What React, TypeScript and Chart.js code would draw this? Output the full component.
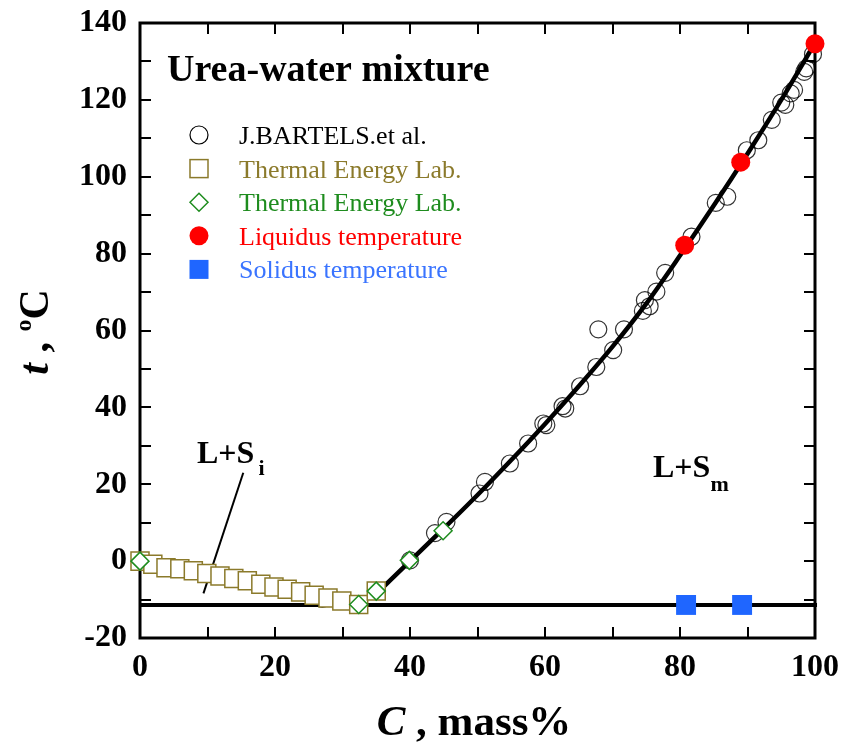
import React, { useEffect, useRef } from "react";
import { Chart, registerables } from "chart.js";

Chart.register(...registerables);

// ---- data ----
const bartelsC = [27, 40, 43.7, 45.4, 50.3, 51.1, 54.8, 57.5, 59.75, 60.2, 62.6, 63.0, 65.2, 67.6, 67.9, 70.1, 71.7, 74.5, 74.8, 75.5, 76.5, 77.8, 81.7, 85.3, 87.0, 89.9, 91.6, 93.6, 95.0, 95.6, 96.4, 96.9, 98.4, 98.7, 99.7];
const bartelsT = [-9.8, 0.2, 7.3, 10.2, 17.6, 20.6, 25.4, 30.6, 35.8, 35.4, 40.3, 39.7, 45.5, 50.5, 60.3, 54.9, 60.3, 65.1, 67.9, 66.3, 70.1, 75.0, 84.4, 93.2, 94.8, 106.9, 109.5, 114.8, 119.3, 118.7, 121.7, 122.6, 127.3, 128.2, 131.9];

const labSqC = [0, 1.9, 3.85, 5.9, 7.9, 9.9, 11.85, 13.9, 15.9, 17.9, 19.85, 21.8, 23.8, 25.8, 27.85, 29.9, 32.4, 35.0];
const labSqT = [0, -0.8, -1.7, -2.0, -2.5, -3.2, -3.9, -4.5, -5.1, -6.0, -6.7, -7.3, -8.0, -8.9, -9.6, -10.4, -11.3, -7.8];

const labDiC = [0, 32.4, 35.0, 39.9, 44.9];
const labDiT = [0, -11.3, -7.8, 0.2, 7.9];

const liqC = [80.7, 89.0, 100];
const liqT = [82.2, 103.8, 134.6];

const solC = [80.9, 89.2];
const solT = [-11.4, -11.4];

const curveC = [35.3, 40, 45, 50, 55, 60, 65, 70, 75, 80, 85, 90, 95, 100];
const curveT = [-8, 0, 8.5, 17.2, 26.3, 35.7, 45.5, 55.8, 67, 79.5, 92.5, 106, 120, 134.8];

const solidusLineC = [0, 100.3];
const solidusLineT = [-11.4, -11.4];

const pointerC = [9.4, 15.3];
const pointerT = [-8.4, 23];

const X_MIN = 0, X_MAX = 100, X_STEP = 20, X_MINOR = 10;
const Y_MIN = -20, Y_MAX = 140, Y_STEP = 20, Y_MINOR = 10;

const legendLabels = [
  "J.BARTELS.et al.",
  "Thermal Energy Lab.",
  "Thermal Energy Lab.",
  "Liquidus temperature",
  "Solidus temperature",
];
const titleText = "Urea-water mixture";

// ---- styles ----
const SERIF = '"Liberation Serif", "Times New Roman", serif';
const OLIVE = "#8B7A2B";
const GREEN = "#1E8C1E";
const RED = "#ff0000";
const BLUE = "#1f66ff";
const legendColors = ["#000000", OLIVE, GREEN, RED, "#3a74ff"];

const pts = (xs: number[], ys: number[]) => xs.map((x, i) => ({ x, y: ys[i] }));

type Run = { text: string; font: string; dy?: number; dx?: number };

function drawRuns(ctx: CanvasRenderingContext2D, runs: Run[], x: number, y: number, align: "left" | "center") {
  let total = 0;
  const widths = runs.map((r) => {
    ctx.font = r.font;
    const w = ctx.measureText(r.text).width + (r.dx || 0);
    total += w;
    return w;
  });
  let cx = align === "center" ? x - total / 2 : x;
  ctx.textAlign = "left";
  ctx.textBaseline = "alphabetic";
  runs.forEach((r, i) => {
    ctx.font = r.font;
    ctx.fillText(r.text, cx + (r.dx || 0), y + (r.dy || 0));
    cx += widths[i];
  });
}

function drawMarker(ctx: CanvasRenderingContext2D, kind: number, x: number, y: number) {
  ctx.save();
  if (kind === 0) {
    ctx.beginPath();
    ctx.arc(x, y, 9, 0, Math.PI * 2);
    ctx.strokeStyle = "#000";
    ctx.lineWidth = 1.2;
    ctx.stroke();
  } else if (kind === 1) {
    ctx.fillStyle = "#fff";
    ctx.fillRect(x - 9, y - 9, 18, 18);
    ctx.strokeStyle = OLIVE;
    ctx.lineWidth = 1.5;
    ctx.strokeRect(x - 9, y - 9, 18, 18);
  } else if (kind === 2) {
    ctx.beginPath();
    ctx.moveTo(x - 9, y);
    ctx.lineTo(x, y - 9);
    ctx.lineTo(x + 9, y);
    ctx.lineTo(x, y + 9);
    ctx.closePath();
    ctx.strokeStyle = GREEN;
    ctx.lineWidth = 1.5;
    ctx.stroke();
  } else if (kind === 3) {
    ctx.beginPath();
    ctx.arc(x, y, 9.5, 0, Math.PI * 2);
    ctx.fillStyle = RED;
    ctx.fill();
  } else {
    ctx.fillStyle = BLUE;
    ctx.fillRect(x - 9.5, y - 9.5, 19, 19);
  }
  ctx.restore();
}

const overlay = {
  id: "overlay",
  beforeDatasetsDraw(chart: any) {
    const { ctx, chartArea: a, scales } = chart;
    const xs = scales.x, ys = scales.y;
    const TL = 11;
    ctx.save();
    ctx.strokeStyle = "#000";
    ctx.lineWidth = 2;
    ctx.beginPath();
    for (let v = X_MIN + X_MINOR; v < X_MAX; v += X_MINOR) {
      const px = Math.round(xs.getPixelForValue(v));
      ctx.moveTo(px, a.bottom);
      ctx.lineTo(px, a.bottom - TL);
      ctx.moveTo(px, a.top);
      ctx.lineTo(px, a.top + TL);
    }
    for (let v = Y_MIN + Y_MINOR; v < Y_MAX; v += Y_MINOR) {
      const py = Math.round(ys.getPixelForValue(v));
      ctx.moveTo(a.left, py);
      ctx.lineTo(a.left + TL, py);
      ctx.moveTo(a.right, py);
      ctx.lineTo(a.right - TL, py);
    }
    ctx.stroke();
    ctx.lineWidth = 3;
    ctx.strokeRect(a.left, a.top, a.right - a.left, a.bottom - a.top);
    ctx.restore();
  },
  afterDatasetsDraw(chart: any) {
    const { ctx } = chart;
    ctx.save();
    // title
    ctx.fillStyle = "#000";
    drawRuns(ctx, [{ text: titleText, font: `bold 38px ${SERIF}` }], 167, 81, "left");
    // legend
    const y0 = 135, dy = 33.6;
    legendLabels.forEach((lab, i) => {
      const yy = y0 + dy * i;
      drawMarker(ctx, i, 199, yy);
      ctx.fillStyle = legendColors[i];
      drawRuns(ctx, [{ text: lab, font: `26px ${SERIF}` }], 239, yy + 9, "left");
    });
    // region labels
    ctx.fillStyle = "#000";
    drawRuns(ctx, [
      { text: "L+S", font: `bold 32px ${SERIF}` },
      { text: "i", font: `bold 22px ${SERIF}`, dy: 12, dx: 4 },
    ], 197, 463, "left");
    drawRuns(ctx, [
      { text: "L+S", font: `bold 32px ${SERIF}` },
      { text: "m", font: `bold 22px ${SERIF}`, dy: 14 },
    ], 653, 477, "left");
    // x axis title
    drawRuns(ctx, [
      { text: "C", font: `italic bold 43px ${SERIF}` },
      { text: " , mass%", font: `bold 43px ${SERIF}` },
    ], 474, 735, "center");
    // y axis title (rotated)
    ctx.save();
    ctx.translate(48, 332);
    ctx.rotate(-Math.PI / 2);
    drawRuns(ctx, [
      { text: "t", font: `italic bold 42px ${SERIF}` },
      { text: " , ", font: `bold 42px ${SERIF}` },
      { text: "o", font: `bold 24px ${SERIF}`, dy: -17 },
      { text: "C", font: `bold 42px ${SERIF}` },
    ], 0, 0, "center");
    ctx.restore();
    ctx.restore();
  },
};

export default function App() {
  const ref = useRef<HTMLCanvasElement | null>(null);
  useEffect(() => {
    if (!ref.current) return;
    const chart = new Chart(ref.current, {
      type: "scatter",
      data: {
        datasets: [
          {
            label: "bartels",
            data: pts(bartelsC, bartelsT),
            pointStyle: "circle",
            pointRadius: 8.5,
            borderColor: "rgba(0,0,0,0.8)",
            backgroundColor: "rgba(0,0,0,0)",
            borderWidth: 1.2,
            order: 8,
            clip: false,
          } as any,
          {
            label: "curve",
            data: pts(curveC, curveT),
            showLine: true,
            pointRadius: 0,
            borderColor: "#000",
            borderWidth: 4.5,
            cubicInterpolationMode: "monotone",
            order: 7,
            clip: false,
          },
          {
            label: "solidusLine",
            data: pts(solidusLineC, solidusLineT),
            showLine: true,
            pointRadius: 0,
            borderColor: "#000",
            borderWidth: 4,
            order: 6,
            clip: false,
          },
          {
            label: "pointer",
            data: pts(pointerC, pointerT),
            showLine: true,
            pointRadius: 0,
            borderColor: "#000",
            borderWidth: 2,
            order: 6,
            clip: false,
          },
          {
            label: "labSq",
            data: pts(labSqC, labSqT),
            pointStyle: "rect",
            pointRadius: 12.73,
            borderColor: OLIVE,
            backgroundColor: "#ffffff",
            borderWidth: 1.5,
            order: 5,
            clip: false,
          },
          {
            label: "labDi",
            data: pts(labDiC, labDiT),
            pointStyle: "rectRot",
            pointRadius: 9,
            borderColor: GREEN,
            backgroundColor: "#ffffff",
            borderWidth: 1.5,
            order: 4,
            clip: false,
          },
          {
            label: "liquidus",
            data: pts(liqC, liqT),
            pointStyle: "circle",
            pointRadius: 9.5,
            borderWidth: 0,
            backgroundColor: RED,
            borderColor: RED,
            order: 3,
            clip: false,
          },
          {
            label: "solidus",
            data: pts(solC, solT),
            pointStyle: "rect",
            pointRadius: 14.1,
            borderWidth: 0,
            backgroundColor: BLUE,
            borderColor: BLUE,
            order: 2,
            clip: false,
          },
        ] as any,
      },
      options: {
        responsive: false,
        animation: false,
        events: [],
        layout: { padding: { top: 23, right: 28, left: 0, bottom: 0 } },
        plugins: { legend: { display: false }, tooltip: { enabled: false } },
        scales: {
          x: {
            type: "linear",
            min: X_MIN,
            max: X_MAX,
            border: { display: false },
            grid: { display: false, drawTicks: false },
            ticks: {
              stepSize: X_STEP,
              padding: 11,
              color: "#000",
              font: { family: SERIF, size: 32, weight: "bold" },
              maxRotation: 0,
            },
            afterFit: (s: any) => {
              s.height = 108;
              s.paddingLeft = 0;
              s.paddingRight = 0;
            },
          },
          y: {
            type: "linear",
            min: Y_MIN,
            max: Y_MAX,
            border: { display: false },
            grid: { display: false, drawTicks: false },
            ticks: {
              stepSize: Y_STEP,
              padding: 13,
              color: "#000",
              font: { family: SERIF, size: 32, weight: "bold" },
            },
            afterFit: (s: any) => {
              s.width = 140;
              s.paddingTop = 0;
              s.paddingBottom = 0;
            },
          },
        },
      },
      plugins: [overlay],
    });
    return () => chart.destroy();
  }, []);
  return (
    <div style={{ position: "absolute", left: 0, top: 0, width: 843, height: 746, background: "#fff" }}>
      <canvas ref={ref} width={843} height={746} style={{ width: 843, height: 746 }} />
    </div>
  );
}
